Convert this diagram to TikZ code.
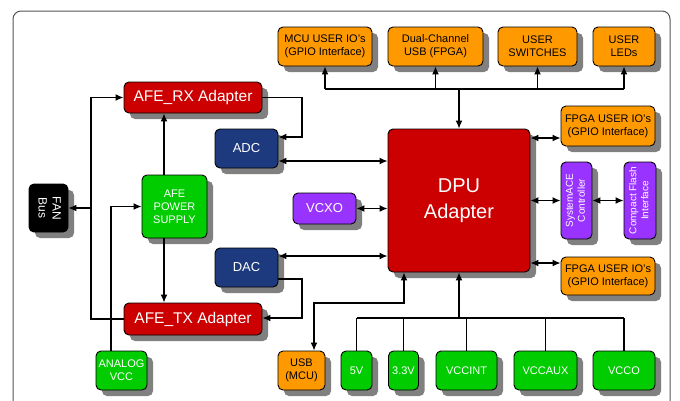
\documentclass[tikz,border=0pt]{standalone}
\usepackage{fontspec}
\setmainfont{Liberation Sans}
\usetikzlibrary{arrows.meta,shadows,calc}
\definecolor{cor}{HTML}{FF9900}
\definecolor{cred}{HTML}{CC0000}
\definecolor{cblue}{HTML}{1D3A7E}
\definecolor{cgreen}{HTML}{00CC00}
\definecolor{cpurple}{HTML}{9933FF}
\definecolor{cframe}{HTML}{555555}
\begin{document}
\begin{tikzpicture}[x=1pt,y=-1pt,
  box/.style={draw=black, line width=0.9pt, rounded corners=5pt, align=center, inner sep=0pt,
    drop shadow={shadow xshift=6pt, shadow yshift=-6pt, fill=black!50, opacity=1},
    font=\fontsize{11}{13}\selectfont},
  ob/.style={box, fill=cor, text=black},
  rb/.style={box, fill=cred, text=white},
  bb/.style={box, fill=cblue, text=white},
  gb/.style={box, fill=cgreen, text=white},
  pb/.style={box, fill=cpurple, text=white},
  kb/.style={box, fill=black, text=white},
  ln/.style={line width=1.3pt},
  arr/.style={ln, -{Latex[length=8pt,width=7pt]}},
  biarr/.style={ln, {Latex[length=8pt,width=7pt]}-{Latex[length=8pt,width=7pt]}}]
\useasboundingbox (0,0) rectangle (680,400);
\fill[white] (0,0) rectangle (680,400);
\draw[cframe, line width=1pt, rounded corners=8pt] (13,11) rectangle (670,430);

% top row
\node[ob, minimum width=94pt, minimum height=39pt] (mcu) at (325,46.5) {MCU USER IO's\\(GPIO Interface)};
\node[ob, minimum width=95pt, minimum height=39pt] (dusb) at (435.5,46.5) {Dual-Channel\\USB (FPGA)};
\node[ob, minimum width=79pt, minimum height=39pt] (usw) at (537.5,46.5) {USER\\SWITCHES};
\node[ob, minimum width=62pt, minimum height=39pt] (leds) at (624,46.5) {USER\\LEDs};

% DPU and right side
\node[rb, minimum width=142pt, minimum height=143pt, font=\fontsize{20}{26}\selectfont] (dpu) at (459,200.5) {DPU\\Adapter};
\node[ob, minimum width=94pt, minimum height=40pt] (fio1) at (608,126) {FPGA USER IO's\\(GPIO Interface)};
\node[pb, minimum width=31pt, minimum height=77pt, font=\fontsize{10}{12}\selectfont] (sace) at (576.5,200.5) {\rotatebox{90}{\begin{tabular}{@{}c@{}}SystemACE\\Controller\end{tabular}}};
\node[pb, minimum width=32pt, minimum height=77pt, font=\fontsize{10}{12}\selectfont] (cf) at (640,200.5) {\rotatebox{90}{\begin{tabular}{@{}c@{}}Compact Flash\\Interface\end{tabular}}};
\node[ob, minimum width=94pt, minimum height=38pt] (fio2) at (608,276) {FPGA USER IO's\\(GPIO Interface)};

% left side
\node[rb, minimum width=138pt, minimum height=31pt, font=\fontsize{15.5}{18}\selectfont] (rx) at (193,97.5) {AFE\_RX Adapter};
\node[bb, minimum width=63pt, minimum height=39pt, font=\fontsize{13}{15}\selectfont] (adc) at (246.5,148.5) {ADC};
\node[pb, minimum width=63pt, minimum height=31pt, font=\fontsize{13}{15}\selectfont] (vcxo) at (324.5,208.5) {VCXO};
\node[bb, minimum width=63pt, minimum height=39pt, font=\fontsize{13}{15}\selectfont] (dac) at (246.5,267.5) {DAC};
\node[rb, minimum width=138pt, minimum height=32pt, font=\fontsize{15.5}{18}\selectfont] (tx) at (193,319) {AFE\_TX Adapter};
\node[gb, minimum width=65pt, minimum height=63pt] (ps) at (174.5,206.5) {AFE\\POWER\\SUPPLY};
\node[kb, minimum width=39pt, minimum height=48pt, font=\fontsize{12}{14}\selectfont] (fan) at (48.5,208) {\rotatebox{-90}{\begin{tabular}{@{}c@{}}FAN\\Bus\end{tabular}}};

% bottom row
\node[gb, minimum width=51pt, minimum height=39pt] (avcc) at (121.5,370.5) {ANALOG\\VCC};
\node[ob, minimum width=47pt, minimum height=39pt] (usbm) at (301.5,370.5) {USB\\(MCU)};
\node[gb, minimum width=31pt, minimum height=39pt] (v5) at (356.5,370.5) {5V};
\node[gb, minimum width=30pt, minimum height=39pt] (v33) at (403.5,370.5) {3.3V};
\node[gb, minimum width=61pt, minimum height=39pt] (vccint) at (466.5,370.5) {VCCINT};
\node[gb, minimum width=63pt, minimum height=39pt] (vccaux) at (545.5,370.5) {VCCAUX};
\node[gb, minimum width=62pt, minimum height=39pt] (vcco) at (624,370.5) {VCCO};

% top bus
\coordinate (bus) at (459,89);
\draw[ln] (mcu.south |- bus) -- (leds.south |- bus);
\draw[arr] (mcu.south |- bus) -- (mcu.south);
\draw[arr] (dusb.south |- bus) -- (dusb.south);
\draw[arr] (usw.south |- bus) -- (usw.south);
\draw[arr] (leds.south |- bus) -- (leds.south);
\draw[arr] (bus) -- (dpu.north);

% right side
\draw[biarr] (dpu.east |- 0,138) -- (fio1.west |- 0,138);
\draw[biarr] (dpu.east |- sace) -- (sace.west);
\draw[biarr] (sace.east) -- (cf.west);
\draw[biarr] (dpu.east |- 0,263) -- (fio2.west |- 0,263);

% ADC / DAC / VCXO
\draw[arr] (rx.east) -| (302,137) -- (adc.east |- 0,137);
\draw[biarr] (adc.east |- 0,161) -- (dpu.west |- 0,161);
\draw[biarr] (vcxo.east) -- (dpu.west |- vcxo);
\draw[biarr] (dac.east |- 0,256) -- (dpu.west |- 0,256);
\draw[arr] (dac.east |- 0,279) -| (302,318) -- (tx.east |- 0,318);

% power supply
\draw[arr] (ps.north -| 164,0) -- (rx.south -| 164,0);
\draw[arr] (ps.south -| 164,0) -- (tx.north -| 164,0);
\draw[arr] (avcc.north -| 111,0) |- (ps.west);

% left bus and fan
\draw[arr] (tx.west) -| (91,200) |- (rx.west);
\draw[arr] (91,208) -- (fan.east);

% USB MCU
\draw[biarr] (usbm.north -| 314,0) |- (404,303) -- (dpu.south -| 404,0);

% power bus
\coordinate (pbus) at (459,318);
\draw[ln] (v5.north |- pbus) -- (vcco.north |- pbus);
\draw[ln] (v5.north) -- (v5.north |- pbus);
\draw[ln] (v33.north) -- (v33.north |- pbus);
\draw[ln] (vccint.north) -- (vccint.north |- pbus);
\draw[ln] (vccaux.north) -- (vccaux.north |- pbus);
\draw[ln] (vcco.north) -- (vcco.north |- pbus);
\draw[arr] (pbus) -- (dpu.south);
\end{tikzpicture}
\end{document}
